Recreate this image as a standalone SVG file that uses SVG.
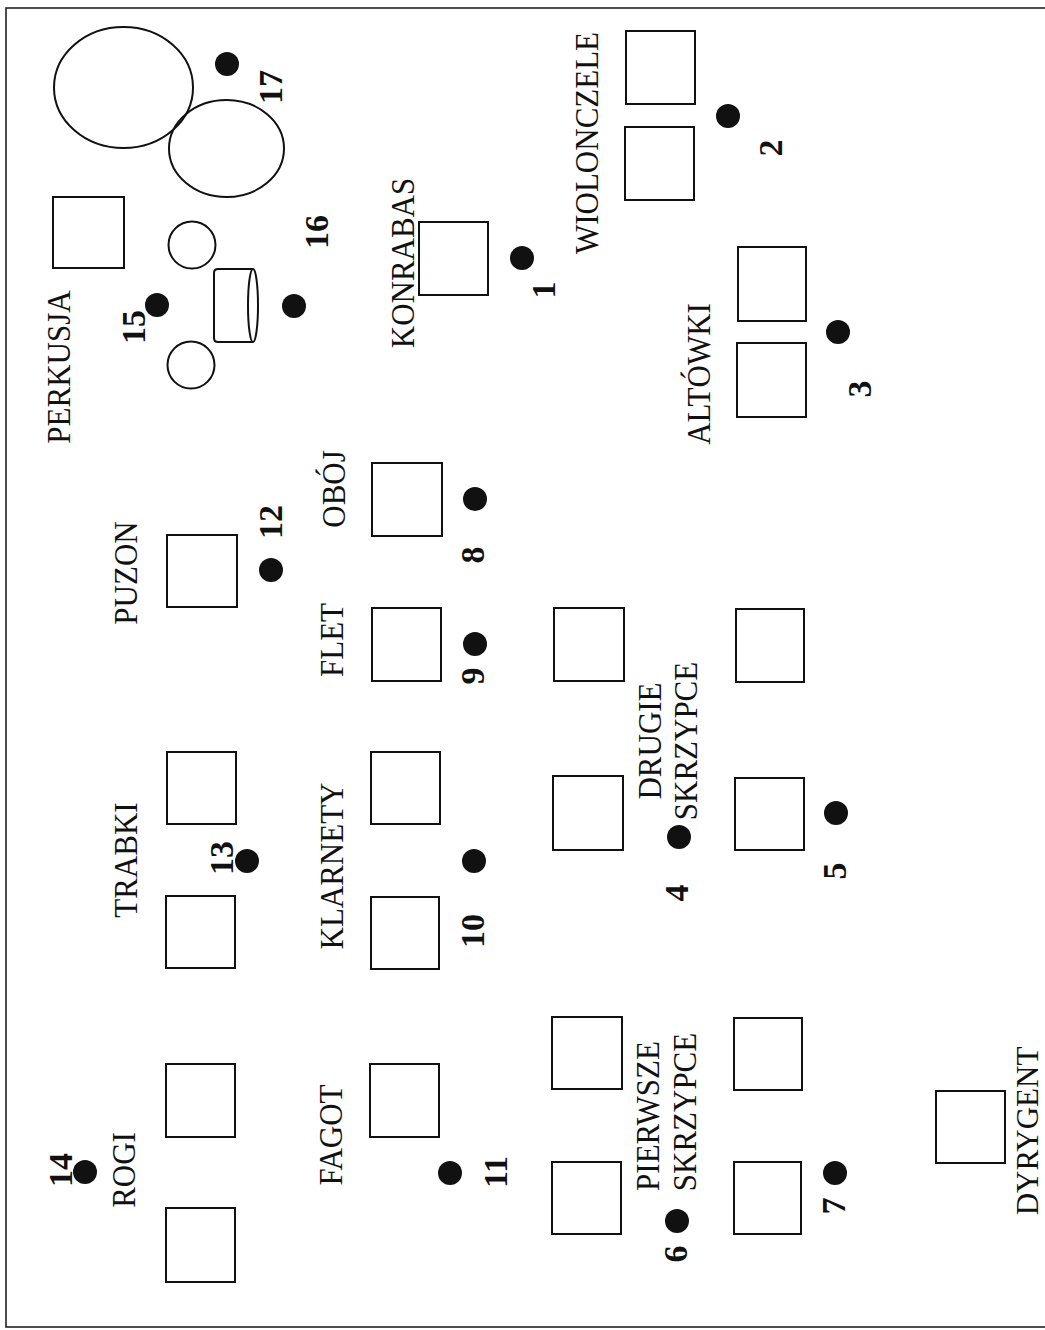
<svg xmlns="http://www.w3.org/2000/svg" width="1045" height="1330" viewBox="0 0 1045 1330">
<style>
.frame{fill:none;stroke:#222;stroke-width:1.6}
.box{fill:none;stroke:#111;stroke-width:2}
.dot{fill:#111}
.lbl{font-family:"Liberation Serif","Times New Roman",serif;font-size:31px;fill:#111;text-anchor:middle}
.num{font-family:"Liberation Serif","Times New Roman",serif;font-size:34px;font-weight:bold;fill:#111;text-anchor:middle}
</style>
<rect width="1045" height="1330" fill="#fff"/>
<rect class="frame" x="6" y="8" width="1100" height="1319"/>

<g id="perkusja">
<ellipse class="box" cx="123.5" cy="87.5" rx="69.5" ry="60.5"/>
<ellipse class="box" cx="226.5" cy="148.5" rx="57.5" ry="48.5"/>
<rect class="box" x="53" y="197" width="71" height="71"/>
<circle class="box" cx="192" cy="245" r="23.5"/>
<circle class="box" cx="191" cy="365" r="23.5"/>
<path class="box" d="M253,269 L218,269 Q214,269 214,273 L214,338 Q214,342 218,342 L253,342"/>
<ellipse class="box" cx="253" cy="305.5" rx="5" ry="36.5"/>
<text class="lbl" transform="translate(59,367) rotate(-90) scale(1,1.07)" x="0" y="10">PERKUSJA</text>
<circle class="dot" cx="227" cy="64" r="12"/>
<text class="num" transform="translate(270,87) rotate(-90)" x="0" y="11.5">17</text>
<circle class="dot" cx="294" cy="306" r="12"/>
<text class="num" transform="translate(316,232) rotate(-90)" x="0" y="11.5">16</text>
<circle class="dot" cx="157" cy="305" r="12"/>
<text class="num" transform="translate(133,327) rotate(-90)" x="0" y="11.5">15</text>
</g>

<g id="konrabas">
<rect class="box" x="419" y="222" width="69" height="73"/>
<text class="lbl" transform="translate(403,263) rotate(-90) scale(1,1.07)" x="0" y="10">KONRABAS</text>
<circle class="dot" cx="522" cy="258" r="12"/>
<text class="num" transform="translate(543,290) rotate(-90)" x="0" y="11.5">1</text>
</g>

<g id="wiolonczele">
<rect class="box" x="626" y="31" width="69" height="73"/>
<rect class="box" x="625" y="127" width="69" height="73"/>
<text class="lbl" transform="translate(587,143) rotate(-90) scale(1,1.07)" x="0" y="10">WIOLONCZELE</text>
<circle class="dot" cx="728" cy="116" r="12"/>
<text class="num" transform="translate(770,148) rotate(-90)" x="0" y="11.5">2</text>
</g>

<g id="altowki">
<rect class="box" x="738" y="247" width="68" height="74"/>
<rect class="box" x="737" y="343" width="69" height="74"/>
<text class="lbl" transform="translate(699,374) rotate(-90) scale(1,1.07)" x="0" y="10">ALTÓWKI</text>
<circle class="dot" cx="838" cy="332" r="12"/>
<text class="num" transform="translate(859,389) rotate(-90)" x="0" y="11.5">3</text>
</g>

<g id="puzon">
<rect class="box" x="167" y="535" width="70" height="72"/>
<text class="lbl" transform="translate(126,573) rotate(-90) scale(1,1.07)" x="0" y="10">PUZON</text>
<circle class="dot" cx="271" cy="570" r="12"/>
<text class="num" transform="translate(270,522) rotate(-90)" x="0" y="11.5">12</text>
</g>

<g id="oboj">
<rect class="box" x="372" y="463" width="70" height="73"/>
<text class="lbl" transform="translate(334,489) rotate(-90) scale(1,1.07)" x="0" y="10">OBÓJ</text>
<circle class="dot" cx="475" cy="499" r="12"/>
<text class="num" transform="translate(472,555) rotate(-90)" x="0" y="11.5">8</text>
</g>

<g id="flet">
<rect class="box" x="372" y="608" width="69" height="73"/>
<text class="lbl" transform="translate(332,640) rotate(-90) scale(1,1.07)" x="0" y="10">FLET</text>
<circle class="dot" cx="475" cy="644" r="12"/>
<text class="num" transform="translate(472,676) rotate(-90)" x="0" y="11.5">9</text>
</g>

<g id="trabki">
<rect class="box" x="167" y="752" width="69" height="72"/>
<rect class="box" x="166" y="896" width="69" height="72"/>
<text class="lbl" transform="translate(126,860) rotate(-90) scale(1,1.07)" x="0" y="10">TRABKI</text>
<circle class="dot" cx="247" cy="861" r="12"/>
<text class="num" transform="translate(221,858) rotate(-90)" x="0" y="11.5">13</text>
</g>

<g id="klarnety">
<rect class="box" x="371" y="752" width="69" height="72"/>
<rect class="box" x="371" y="897" width="68" height="72"/>
<text class="lbl" transform="translate(332,866) rotate(-90) scale(1,1.07)" x="0" y="10">KLARNETY</text>
<circle class="dot" cx="474" cy="861" r="12"/>
<text class="num" transform="translate(472,931) rotate(-90)" x="0" y="11.5">10</text>
</g>

<g id="drugie-skrzypce">
<rect class="box" x="554" y="608" width="70" height="73"/>
<rect class="box" x="553" y="776" width="70" height="74"/>
<rect class="box" x="736" y="609" width="68" height="73"/>
<rect class="box" x="735" y="778" width="69" height="72"/>
<text class="lbl" transform="translate(650,741) rotate(-90) scale(1,1.07)" x="0" y="10">DRUGIE</text>
<text class="lbl" transform="translate(686,741) rotate(-90) scale(1,1.07)" x="0" y="10">SKRZYPCE</text>
<circle class="dot" cx="679" cy="837" r="12"/>
<text class="num" transform="translate(676,893) rotate(-90)" x="0" y="11.5">4</text>
<circle class="dot" cx="836" cy="813" r="12"/>
<text class="num" transform="translate(834,871) rotate(-90)" x="0" y="11.5">5</text>
</g>

<g id="rogi">
<rect class="box" x="166" y="1064" width="69" height="73"/>
<rect class="box" x="166" y="1208" width="69" height="74"/>
<text class="lbl" transform="translate(124,1170) rotate(-90) scale(1,1.07)" x="0" y="10">ROGI</text>
<circle class="dot" cx="85" cy="1172" r="12"/>
<text class="num" transform="translate(60,1170) rotate(-90)" x="0" y="11.5">14</text>
</g>

<g id="fagot">
<rect class="box" x="370" y="1064" width="69" height="73"/>
<text class="lbl" transform="translate(331,1135) rotate(-90) scale(1,1.07)" x="0" y="10">FAGOT</text>
<circle class="dot" cx="450" cy="1173" r="12"/>
<text class="num" transform="translate(495,1172) rotate(-90)" x="0" y="11.5">11</text>
</g>

<g id="pierwsze-skrzypce">
<rect class="box" x="552" y="1017" width="70" height="72"/>
<rect class="box" x="552" y="1162" width="69" height="72"/>
<rect class="box" x="734" y="1018" width="68" height="72"/>
<rect class="box" x="734" y="1162" width="67" height="72"/>
<text class="lbl" transform="translate(648,1116) rotate(-90) scale(1,1.07)" x="0" y="10">PIERWSZE</text>
<text class="lbl" transform="translate(685,1112) rotate(-90) scale(1,1.07)" x="0" y="10">SKRZYPCE</text>
<circle class="dot" cx="677" cy="1221" r="12"/>
<text class="num" transform="translate(675,1254) rotate(-90)" x="0" y="11.5">6</text>
<circle class="dot" cx="835" cy="1173" r="12"/>
<text class="num" transform="translate(833,1206) rotate(-90)" x="0" y="11.5">7</text>
</g>

<g id="dyrygent">
<rect class="box" x="936" y="1091" width="69" height="72"/>
<text class="lbl" transform="translate(1028,1131) rotate(-90) scale(1,1.04)" x="0" y="10">DYRYGENT</text>
</g>

<g id="connectors"></g>
</svg>
